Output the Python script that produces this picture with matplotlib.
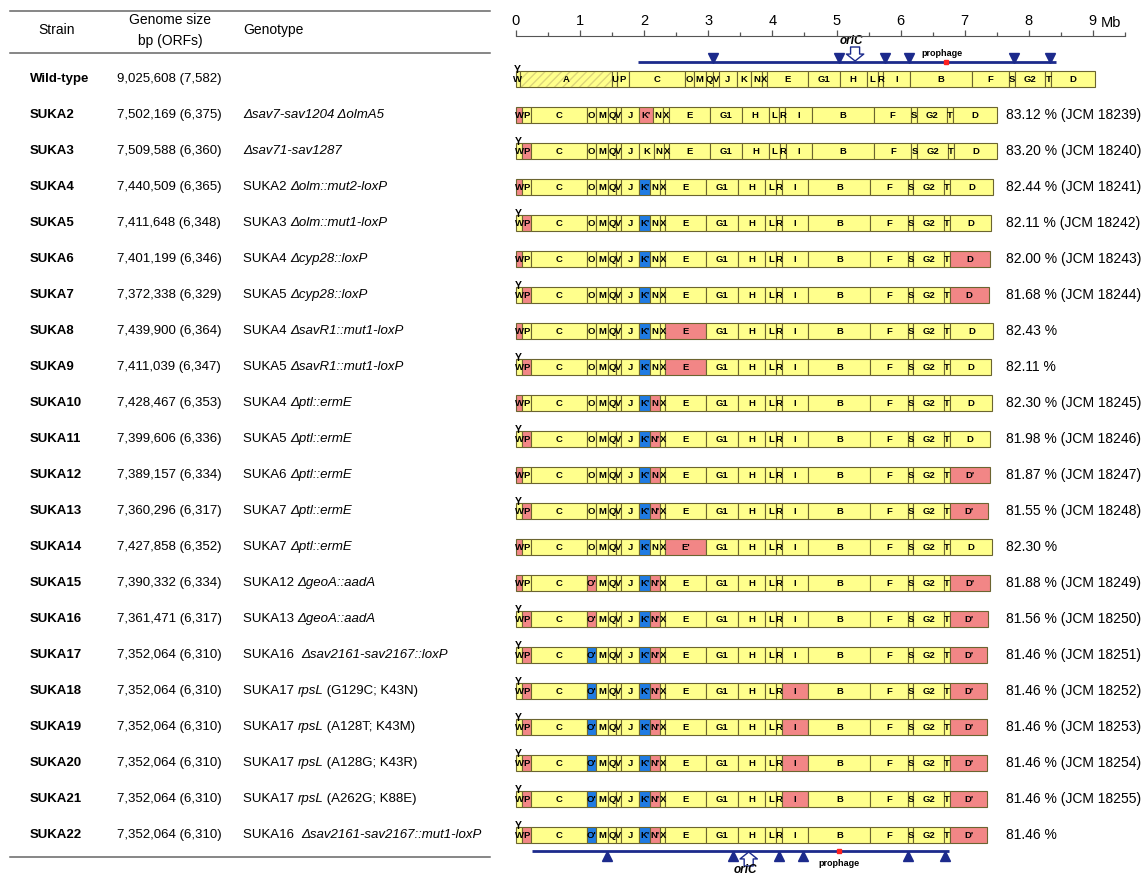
import numpy as np
import matplotlib
matplotlib.use("Agg")
import matplotlib.pyplot as plt

plt.rcParams["font.family"] = ["Liberation Sans", "DejaVu Sans"]

# ---- table data -------------------------------------------------------------
STRAINS = ["Wild-type"] + [f"SUKA{i}" for i in range(2, 23)]
GENOME_BP = [9025608, 7502169, 7509588, 7440509, 7411648, 7401199, 7372338,
             7439900, 7411039, 7428467, 7399606, 7389157, 7360296, 7427858,
             7390332, 7361471, 7352064, 7352064, 7352064, 7352064, 7352064,
             7352064]
ORFS = [7582, 6375, 6360, 6365, 6348, 6346, 6329, 6364, 6347, 6353, 6336,
        6334, 6317, 6352, 6334, 6317, 6310, 6310, 6310, 6310, 6310, 6310]
# (text, italic) pieces
GENOTYPE = [
    [],
    [("\u0394sav7-sav1204 \u0394olmA5", True)],
    [("\u0394sav71-sav1287", True)],
    [("SUKA2 ", False), ("\u0394olm::mut2-loxP", True)],
    [("SUKA3 ", False), ("\u0394olm::mut1-loxP", True)],
    [("SUKA4 ", False), ("\u0394cyp28::loxP", True)],
    [("SUKA5 ", False), ("\u0394cyp28::loxP", True)],
    [("SUKA4 ", False), ("\u0394savR1::mut1-loxP", True)],
    [("SUKA5 ", False), ("\u0394savR1::mut1-loxP", True)],
    [("SUKA4 ", False), ("\u0394ptl::ermE", True)],
    [("SUKA5 ", False), ("\u0394ptl::ermE", True)],
    [("SUKA6 ", False), ("\u0394ptl::ermE", True)],
    [("SUKA7 ", False), ("\u0394ptl::ermE", True)],
    [("SUKA7 ", False), ("\u0394ptl::ermE", True)],
    [("SUKA12 ", False), ("\u0394geoA::aadA", True)],
    [("SUKA13 ", False), ("\u0394geoA::aadA", True)],
    [("SUKA16  ", False), ("\u0394sav2161-sav2167::loxP", True)],
    [("SUKA17 ", False), ("rpsL", True), (" (G129C; K43N)", False)],
    [("SUKA17 ", False), ("rpsL", True), (" (A128T; K43M)", False)],
    [("SUKA17 ", False), ("rpsL", True), (" (A128G; K43R)", False)],
    [("SUKA17 ", False), ("rpsL", True), (" (A262G; K88E)", False)],
    [("SUKA16  ", False), ("\u0394sav2161-sav2167::mut1-loxP", True)],
]
IDENTITY = [None, 83.12, 83.20, 82.44, 82.11, 82.00, 81.68, 82.43, 82.11,
            82.30, 81.98, 81.87, 81.55, 82.30, 81.88, 81.56, 81.46, 81.46,
            81.46, 81.46, 81.46, 81.46]
JCM = [None, 18239, 18240, 18241, 18242, 18243, 18244, None, None, 18245,
       18246, 18247, 18248, None, 18249, 18250, 18251, 18252, 18253, 18254,
       18255, None]

# ---- genome map data (Mb) ---------------------------------------------------
WT_SEGS = ["W", "A", "U", "P", "C", "O", "M", "Q", "V", "J", "K", "N", "X",
           "E", "G1", "H", "L", "R", "I", "B", "F", "S", "G2", "T", "D"]
WT_MB = [0.06, 1.44, 0.08, 0.18, 0.87, 0.14, 0.19, 0.12, 0.08, 0.28, 0.23,
         0.16, 0.08, 0.64, 0.50, 0.42, 0.17, 0.09, 0.41, 0.97, 0.58, 0.09,
         0.48, 0.09]  # D fills the rest
SUKA_SEGS = ["W", "P", "C", "O", "M", "Q", "V", "J", "K", "N", "X", "E", "G1",
             "H", "L", "R", "I", "B", "F", "S", "G2", "T", "D"]
SUKA_MB = [0.10, 0.14, 0.87, 0.14, 0.19, 0.12, 0.08, 0.28, None, 0.16, 0.08,
           0.64, 0.50, 0.42, 0.17, 0.09, 0.41, 0.97, 0.58, 0.09, 0.48, 0.09]
K_MB = [0.23, 0.22, 0.23] + [0.17] * 19
Y_MARK = [True, False, True, False, True, False, True, False, True, False,
          True, False, True, False, False, True, True, True, True, True, True,
          True]
KB, NR, DR = ("K'", "b"), ("N'", "r"), ("D'", "r")
MODS = [
    {},
    {"W": "r", "K": ("K'", "r")},
    {"P": "r"},
    {"W": "r", "K": KB},
    {"P": "r", "K": KB},
    {"W": "r", "K": KB, "D": "r"},
    {"P": "r", "K": KB, "D": "r"},
    {"W": "r", "K": KB, "E": "r"},
    {"P": "r", "K": KB, "E": "r"},
    {"W": "r", "K": KB, "N": "r"},
    {"P": "r", "K": KB, "N": NR},
    {"W": "r", "K": KB, "N": "r", "D": DR},
    {"P": "r", "K": KB, "N": NR, "D": DR},
    {"W": "r", "K": KB, "E": ("E'", "r")},
    {"W": "r", "O": ("O'", "r"), "K": KB, "N": NR, "D": DR},
    {"P": "r", "O": ("O'", "r"), "K": KB, "N": NR, "D": DR},
    {"P": "r", "O": ("O'", "b"), "K": KB, "N": NR, "D": DR},
    {"P": "r", "O": ("O'", "b"), "K": KB, "N": NR, "I": "r", "D": DR},
    {"P": "r", "O": ("O'", "b"), "K": KB, "N": NR, "I": "r", "D": DR},
    {"P": "r", "O": ("O'", "b"), "K": KB, "N": NR, "I": "r", "D": DR},
    {"P": "r", "O": ("O'", "b"), "K": KB, "N": NR, "I": "r", "D": DR},
    {"P": "r", "O": ("O'", "b"), "K": KB, "N": NR, "D": DR},
]
TOP_LINE = (1.90, 8.43)
TOP_MARKS = [3.07, 5.04, 5.76, 6.13, 7.77, 8.33]
TOP_ORIC, TOP_PROPHAGE = 5.29, 6.71
BOT_LINE = (0.25, 6.75)
BOT_MARKS = [1.42, 3.39, 4.10, 4.48, 6.12, 6.69]
BOT_ORIC, BOT_PROPHAGE = 3.63, 5.04

YELLOW, RED, BLUE = "#ffff8c", "#f28686", "#1f7be3"
EDGE, HATCH, NAVY = "#6b6430", "#ddd67a", "#1c2a8c"
PX_MB = 64.1
BAR_H = 0.42


def row(px):
    # pixel row -> table row units
    return (px - 79) / 36.0


fig = plt.figure(figsize=(11.44, 8.75), dpi=100)
tab = fig.add_axes([0, 0, 1, 1])
tab.set_xlim(0, 1144); tab.set_ylim(row(875), row(0)); tab.axis("off")
gen = fig.add_axes([500 / 1144, 0, 644 / 1144, 1])
gen.set_xlim(-16 / PX_MB, 628 / PX_MB); gen.set_ylim(row(875), row(0))
gen.axis("off")

# ---- table ------------------------------------------------------------------
for yy in (row(11), row(53), row(857)):
    tab.plot([10, 490], [yy, yy], color="#666666", lw=1.1)
tab.text(57, row(30), "Strain", ha="center", va="center", fontsize=10)
tab.text(170, row(20), "Genome size", ha="center", va="center", fontsize=10)
tab.text(170, row(41), "bp (ORFs)", ha="center", va="center", fontsize=10)
tab.text(243, row(30), "Genotype", ha="left", va="center", fontsize=10)

for i, name in enumerate(STRAINS):
    tab.text(30, i, name, ha="left", va="center", fontsize=9.5,
             fontweight="bold")
    tab.text(117, i, f"{GENOME_BP[i]:,} ({ORFS[i]:,})", ha="left",
             va="center", fontsize=9.5)
    pieces = GENOTYPE[i]
    if pieces:
        t = tab.text(243, i, pieces[0][0], ha="left", va="center",
                     fontsize=9.5, style="italic" if pieces[0][1] else "normal")
        for txt, ital in pieces[1:]:
            t = tab.annotate(txt, xy=(1, 0), xycoords=t, ha="left",
                             va="bottom", fontsize=9.5,
                             style="italic" if ital else "normal")
    if IDENTITY[i] is not None:
        s = f"{IDENTITY[i]:.2f} %"
        if JCM[i] is not None:
            s += f" (JCM {JCM[i]})"
        tab.text(1006, i, s, ha="left", va="center", fontsize=10)

# ---- ruler ------------------------------------------------------------------
ruler = fig.add_axes([500 / 1144, 1 - 36 / 875, 644 / 1144, 1e-4])
ruler.set_xlim(gen.get_xlim())
ruler.patch.set_visible(False)
for s in ("left", "right", "bottom"):
    ruler.spines[s].set_visible(False)
ruler.spines["top"].set_bounds(0, 9.5)
ruler.spines["top"].set_color("#555555")
ruler.xaxis.tick_top()
ruler.set_xticks(range(10))
ruler.set_xticklabels([str(k) for k in range(10)])
ruler.set_xticks(np.arange(0.5, 9.6, 1.0), minor=True)
ruler.tick_params(axis="x", which="both", direction="out", colors="#555555",
                  labelcolor="black", labelsize=10.5, pad=1.5, width=0.9)
ruler.tick_params(axis="x", which="major", length=4)
ruler.tick_params(axis="x", which="minor", length=3)
ruler.set_yticks([])
tab.text(1101, row(23), "Mb", ha="left", va="center", fontsize=10.5)


# ---- genome bars ------------------------------------------------------------
def draw_row(y, names, lengths, mods, hatch_seg=None, ymark=False):
    left = 0.0
    for name, length in zip(names, lengths):
        label, color = name, YELLOW
        mod = mods.get(name)
        if mod is not None:
            if isinstance(mod, tuple):
                label, c = mod
            else:
                c = mod
            color = RED if c == "r" else BLUE
        if name == hatch_seg:
            gen.barh(y, length, left=left, height=BAR_H, color=YELLOW,
                     edgecolor=HATCH, hatch="////", linewidth=0)
            gen.barh(y, length, left=left, height=BAR_H, fill=False,
                     edgecolor=EDGE, linewidth=0.8)
        else:
            gen.barh(y, length, left=left, height=BAR_H, color=color,
                     edgecolor=EDGE, linewidth=0.8)
        gen.text(left + length / 2, y + 0.02, label, ha="center",
                 va="center", fontsize=6.8, fontweight="bold")
        if name == "W" and ymark:
            gen.text(left + length / 2 - 0.01, y - 0.17, "Y", ha="center",
                     va="baseline", fontsize=7.5, fontweight="bold")
        left += length


wt_len = WT_MB + [GENOME_BP[0] / 1e6 - sum(WT_MB)]
draw_row(0, WT_SEGS, wt_len, MODS[0], hatch_seg="A", ymark=Y_MARK[0])
for i in range(1, len(STRAINS)):
    lens = [K_MB[i] if v is None else v for v in SUKA_MB]
    lens.append(GENOME_BP[i] / 1e6 - sum(lens))
    draw_row(i, SUKA_SEGS, lens, MODS[i], ymark=Y_MARK[i])

# ---- top and bottom chromosome lines ---------------------------------------
arrow_style = "simple,head_length=0.5,head_width=1.25,tail_width=0.65"

ty = row(62)
gen.plot(TOP_LINE, [ty, ty], color=NAVY, lw=2, solid_capstyle="butt")
gen.plot(TOP_MARKS, [row(57.5)] * len(TOP_MARKS), "v", color=NAVY, ms=6.5)
gen.plot([TOP_PROPHAGE], [ty], "s", color="#ff2020", ms=3.5)
gen.text(TOP_PROPHAGE - 0.07, row(53), "prophage", ha="center", va="center",
         fontsize=6.5, fontweight="bold")
gen.annotate("", xy=(TOP_ORIC, row(61)), xytext=(TOP_ORIC, row(47)),
             arrowprops=dict(arrowstyle=arrow_style, fc="white", ec=NAVY,
                             lw=1, shrinkA=0, shrinkB=0))
gen.text(TOP_ORIC - 0.05, row(41), "oriC", ha="center", va="center",
         fontsize=8.5, style="italic", fontweight="bold")

by = row(851)
gen.plot(BOT_LINE, [by, by], color=NAVY, lw=2, solid_capstyle="butt")
gen.plot(BOT_MARKS, [row(855.5)] * len(BOT_MARKS), "^", color=NAVY, ms=6.5)
gen.plot([BOT_PROPHAGE], [by], "s", color="#ff2020", ms=3.5)
gen.text(BOT_PROPHAGE, row(864), "prophage", ha="center", va="center",
         fontsize=6.5, fontweight="bold")
gen.annotate("", xy=(BOT_ORIC, row(852)), xytext=(BOT_ORIC, row(866)),
             arrowprops=dict(arrowstyle=arrow_style, fc="white", ec=NAVY,
                             lw=1, shrinkA=0, shrinkB=0))
gen.text(BOT_ORIC - 0.05, row(870), "oriC", ha="center", va="center",
         fontsize=8.5, style="italic", fontweight="bold")

fig.savefig("out.png", dpi=100)
